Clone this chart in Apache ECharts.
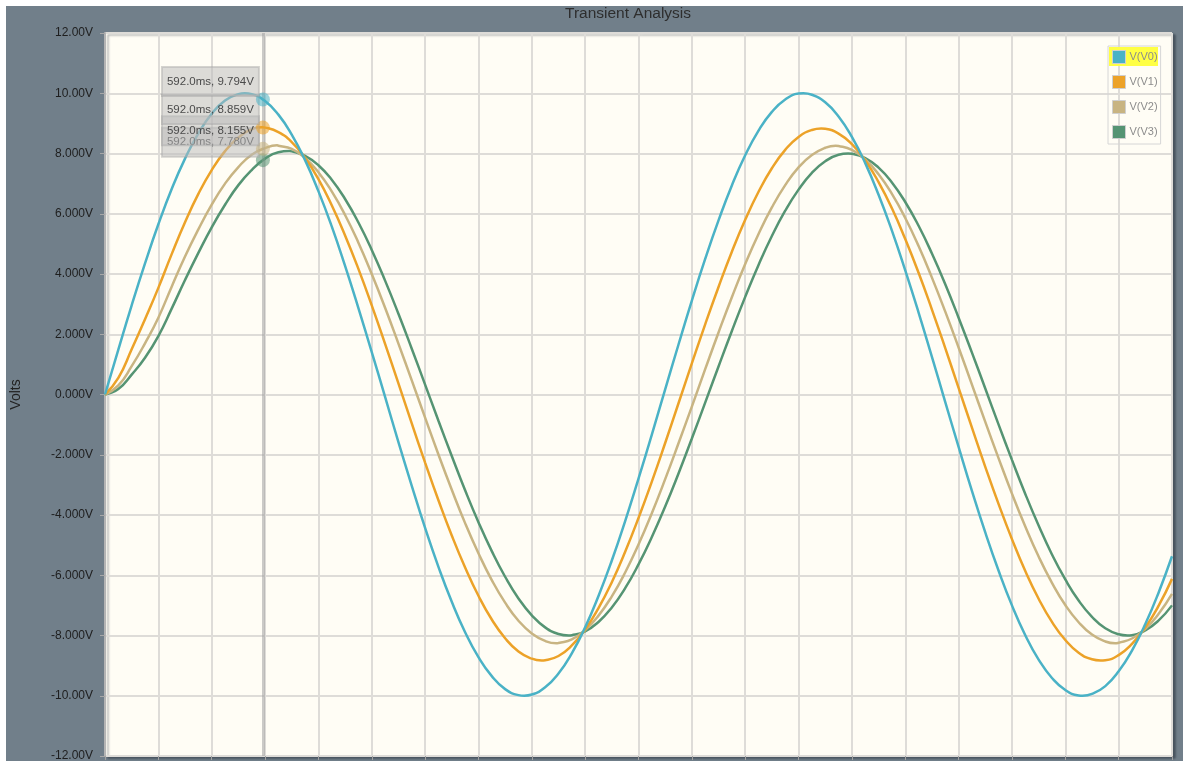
<!DOCTYPE html>
<html>
<head>
<meta charset="utf-8">
<script src="https://cdn.jsdelivr.net/npm/echarts@6/dist/echarts.min.js"></script>
<style>
  html, body { margin: 0; padding: 0; background: #ffffff; width: 1183px; height: 761px; overflow: hidden; }
  #chart { position: absolute; left: 6px; top: 6px; width: 1177px; height: 755px; background: #717f8a; }
</style>
</head>
<body>
<div id="chart"></div>
<script>
// ---- data ----
const seriesNames = ['V(V0)', 'V(V1)', 'V(V2)', 'V(V3)'];
const timeMs = [0,50,100,150,200,250,300,350,400,450,500,550,600,650,700,750,800,850,900,950,
  1000,1050,1100,1150,1200,1250,1300,1350,1400,1450,1500,1550,1600,1650,1700,1750,1800,1850,1900,1950,
  2000,2050,2100,2150,2200,2250,2300,2350,2400,2450,2500,2550,2600,2650,2700,2750,2800,2850,2900,2950,
  3000,3050,3100,3150,3200,3250,3300,3350,3400,3450,3500,3550,3600,3650,3700,3750,3800,3850,3900,3950,4000];
const v0 = [0, 1.49, 2.96, 4.35, 5.65, 6.82, 7.83, 8.67, 9.32, 9.76, 9.97, 9.97, 9.74, 9.29, 8.63, 7.78, 6.75, 5.58, 4.27, 2.87,
  1.41, -0.08, -1.58, -3.03, -4.43, -5.72, -6.88, -7.89, -8.72, -9.35, -9.78, -9.98, -9.96, -9.72, -9.26, -8.59, -7.73, -6.69, -5.51, -4.20,
  -2.79, -1.33, 0.17, 1.66, 3.12, 4.50, 5.78, 6.94, 7.94, 8.76, 9.38, 9.79, 9.99, 9.95, 9.70, 9.23, 8.55, 7.68, 6.63, 5.44,
  4.12, 2.72, 1.25, -0.25, -1.74, -3.20, -4.58, -5.85, -7.00, -7.99, -8.80, -9.41, -9.81, -9.99, -9.94, -9.68, -9.19, -8.50, -7.62, -6.57, -5.37];
const v1 = [0, 0.55, 1.50, 2.50, 3.54, 4.66, 5.72, 6.66, 7.45, 8.08, 8.53, 8.80, 8.86, 8.71, 8.38, 7.85, 7.15, 6.28, 5.28, 4.17,
  2.96, 1.68, 0.37, -0.96, -2.26, -3.51, -4.68, -5.74, -6.68, -7.47, -8.09, -8.53, -8.77, -8.82, -8.68, -8.33, -7.80, -7.09, -6.23, -5.22,
  -4.10, -2.89, -1.61, -0.29, 1.03, 2.33, 3.57, 4.74, 5.80, 6.73, 7.51, 8.12, 8.55, 8.78, 8.82, 8.66, 8.31, 7.77, 7.05, 6.18,
  5.16, 4.04, 2.82, 1.54, 0.22, -1.10, -2.40, -3.64, -4.80, -5.86, -6.78, -7.55, -8.15, -8.57, -8.79, -8.82, -8.65, -8.28, -7.73, -7.01, -6.12];
const v2 = [0, 0.30, 0.94, 1.70, 2.55, 3.58, 4.58, 5.48, 6.30, 7.00, 7.55, 7.96, 8.18, 8.26, 8.15, 7.85, 7.38, 6.74, 5.96, 5.04,
  4.00, 2.88, 1.69, 0.47, -0.77, -1.99, -3.16, -4.27, -5.27, -6.16, -6.91, -7.51, -7.93, -8.18, -8.25, -8.13, -7.82, -7.34, -6.70, -5.91,
  -4.98, -3.94, -2.81, -1.62, -0.40, 0.84, 2.06, 3.23, 4.33, 5.33, 6.21, 6.95, 7.54, 7.95, 8.19, 8.25, 8.12, 7.80, 7.31, 6.66,
  5.86, 4.93, 3.88, 2.75, 1.56, 0.33, -0.91, -2.12, -3.29, -4.38, -5.38, -6.25, -6.99, -7.56, -7.97, -8.20, -8.24, -8.10, -7.78, -7.28, -6.62];
const v3 = [0, 0.18, 0.66, 1.22, 1.94, 2.85, 3.80, 4.70, 5.55, 6.30, 6.95, 7.45, 7.83, 8.04, 8.07, 7.92, 7.61, 7.13, 6.49, 5.71,
  4.80, 3.78, 2.68, 1.52, 0.33, -0.87, -2.04, -3.18, -4.24, -5.20, -6.05, -6.77, -7.33, -7.73, -7.95, -7.99, -7.86, -7.55, -7.07, -6.43,
  -5.64, -4.73, -3.72, -2.62, -1.46, -0.27, 0.93, 2.11, 3.24, 4.30, 5.26, 6.10, 6.80, 7.36, 7.74, 7.96, 7.99, 7.85, 7.53, 7.04,
  6.39, 5.60, 4.68, 3.66, 2.55, 1.39, 0.20, -1.00, -2.17, -3.30, -4.35, -5.31, -6.14, -6.84, -7.38, -7.76, -7.96, -7.99, -7.83, -7.50, -7.00];
// peaks and troughs (extra samples at each extremum)
const v0ExtremaT = [524, 1571, 2618, 3665];
const v0ExtremaV = [10.00, -10.00, 10.00, -10.00];
const v1ExtremaT = [590, 1637, 2685, 3732];
const v1ExtremaV = [8.87, -8.83, 8.83, -8.83];
const v2ExtremaT = [645, 1692, 2739, 3787];
const v2ExtremaV = [8.27, -8.26, 8.26, -8.26];
const v3ExtremaT = [691, 1738, 2786, 3833];
const v3ExtremaV = [8.08, -8.00, 8.00, -8.00];

const cursorMs = 592.0;
const cursorValues = [9.794, 8.859, 8.155, 7.780];
const yTicks = [-12, -10, -8, -6, -4, -2, 0, 2, 4, 6, 8, 10, 12];
const yTickLabels = ['-12.00V', '-10.00V', '-8.000V', '-6.000V', '-4.000V', '-2.000V', '0.000V', '2.000V', '4.000V', '6.000V', '8.000V', '10.00V', '12.00V'];

const colors = ['#4ab2c6', '#eca228', '#c8b482', '#559473'];
const markColors = ['rgba(74,178,198,0.55)', 'rgba(236,162,40,0.55)', 'rgba(200,180,130,0.55)', 'rgba(85,148,115,0.55)'];
const allValues = [v0, v1, v2, v3];
const allExT = [v0ExtremaT, v1ExtremaT, v2ExtremaT, v3ExtremaT];
const allExV = [v0ExtremaV, v1ExtremaV, v2ExtremaV, v3ExtremaV];
const FONT = 'Liberation Sans, Arial, sans-serif';

function buildData(vals, exT, exV) {
  const pts = timeMs.map((t, k) => [t, vals[k]]).concat(exT.map((t, k) => [t, exV[k]]));
  pts.sort((a, b) => a[0] - b[0]);
  return pts;
}

const chart = echarts.init(document.getElementById('chart'), null, { renderer: 'canvas' });

const series = allValues.map((vals, i) => {
  const s = {
    name: seriesNames[i],
    type: 'line',
    smooth: 0.5,
    showSymbol: false,
    symbol: 'none',
    z: 6 - i,
    data: buildData(vals, allExT[i], allExV[i]),
    lineStyle: { color: colors[i], width: 2.5 },
    itemStyle: { color: colors[i] },
    emphasis: { disabled: true },
    markPoint: {
      z: 20 - i,
      symbol: 'circle',
      symbolSize: 14,
      silent: true,
      itemStyle: { color: markColors[i] },
      data: [{ coord: [cursorMs, cursorValues[i]] }],
      label: {
        show: true,
        position: [3, -11],
        align: 'right',
        verticalAlign: 'middle',
        formatter: cursorMs.toFixed(1) + 'ms, ' + cursorValues[i].toFixed(3) + 'V',
        backgroundColor: 'rgba(185,185,185,0.5)',
        borderColor: 'rgba(160,160,160,0.45)',
        borderWidth: 1,
        padding: [9, 5, 8, 5],
        color: '#4a4a4a',
        fontSize: 11.5,
        fontFamily: FONT
      }
    }
  };
  if (i === 3) {
    s.markLine = {
      silent: true,
      symbol: 'none',
      label: { show: false },
      lineStyle: { color: 'rgba(160,160,160,0.55)', width: 3, type: 'solid' },
      data: [{ xAxis: cursorMs }]
    };
  }
  return s;
});

chart.setOption({
  animation: false,
  backgroundColor: 'transparent',
  color: colors,
  title: {
    text: 'Transient Analysis',
    left: 559,
    top: 0,
    padding: 0,
    textStyle: { color: '#2e2e2e', fontSize: 15.5, fontWeight: 'normal', fontFamily: FONT }
  },
  grid: {
    left: 99, right: 11, top: 27, bottom: 5,
    outerBoundsMode: 'none',
    containLabel: false,
    show: true,
    backgroundColor: '#fffdf5',
    borderColor: '#b8b8b8',
    borderWidth: 1,
    shadowColor: 'rgba(40,50,60,0.55)',
    shadowOffsetX: 3,
    shadowOffsetY: 2,
    shadowBlur: 2
  },
  legend: {
    orient: 'vertical',
    left: 1102,
    top: 40,
    padding: [4, 3, 5, 4],
    itemGap: 11,
    itemWidth: 13,
    itemHeight: 13,
    icon: 'rect',
    backgroundColor: 'transparent',
    borderColor: '#d6d6d6',
    borderWidth: 1,
    selectedMode: false,
    data: seriesNames,
    itemStyle: { borderColor: '#cfcfcf', borderWidth: 1 },
    textStyle: { color: '#8c8c8c', fontSize: 11, fontFamily: FONT, padding: [0, 0, 0, -1] }
  },
  graphic: [{
    type: 'rect',
    left: 1103, top: 41,
    shape: { width: 49, height: 19 },
    style: { fill: '#ffff44' },
    z: 3,
    silent: true
  }],
  xAxis: {
    type: 'value',
    min: 0, max: 4000, interval: 200,
    axisLine: { show: false, onZero: false },
    axisTick: { show: true, length: 4, lineStyle: { color: '#a0a0a0' } },
    axisLabel: { show: false },
    splitLine: { show: true, lineStyle: { color: '#dedcd8', width: 2 } }
  },
  yAxis: {
    type: 'value',
    min: -12, max: 12, interval: 2,
    name: 'Volts',
    nameLocation: 'middle',
    nameGap: 82,
    nameTextStyle: { color: '#222', fontSize: 14, fontFamily: FONT },
    axisLine: { show: true, lineStyle: { color: '#b4b4b4', width: 2 } },
    axisTick: { show: true, length: 5, lineStyle: { color: '#a8a8a8' } },
    axisLabel: {
      color: '#1e1e1e', fontSize: 12, fontFamily: FONT, margin: 12,
      formatter: (val) => { const idx = yTicks.indexOf(val); return idx >= 0 ? yTickLabels[idx] : ''; }
    },
    splitLine: { show: true, lineStyle: { color: '#dedcd8', width: 2 } }
  },
  series: series
});
</script>
</body>
</html>
